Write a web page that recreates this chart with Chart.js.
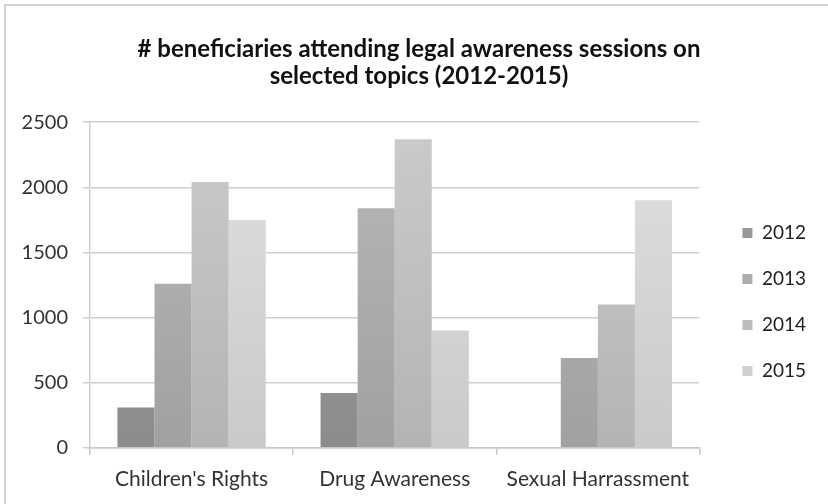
<!DOCTYPE html>
<html>
<head>
<meta charset="utf-8">
<script src="https://cdn.jsdelivr.net/npm/chart.js@4.4.1/dist/chart.umd.min.js"></script>
<style>
    html, body { margin: 0; padding: 0; background: #fff; }
    #wrap { position: relative; width: 828px; height: 504px; overflow: hidden; }
    #frame { position: absolute; left: 4px; top: 4px; width: 900px; height: 600px;
             border-top: 2px solid #d2d2d2; border-left: 2px solid #d2d2d2; }
    canvas { position: absolute; left: 0; top: 0; }
</style>
</head>
<body>
<div id="wrap">
    <div id="frame"></div>
    <canvas id="myChart" width="828" height="504"></canvas>
</div>
<script>
const topics = ["Children's Rights", "Drug Awareness", "Sexual Harrassment"];
const years = ["2012", "2013", "2014", "2015"];
const values_2012 = [310, 420, 0];
const values_2013 = [1260, 1840, 690];
const values_2014 = [2040, 2370, 1100];
const values_2015 = [1750, 900, 1900];
const y_ticks = [0, 500, 1000, 1500, 2000, 2500];

const shades = [
    ['#a0a0a0', '#8c8c8c'],
    ['#b8b8b8', '#a1a1a1'],
    ['#cbcbcb', '#b4b4b4'],
    ['#e0e0e0', '#cacaca']
];

function bar_fill(index) {
    return (ctx) => {
        const area = ctx.chart.chartArea;
        if (!area) {
            return shades[index][1];
        }
        const grad = ctx.chart.ctx.createLinearGradient(0, area.bottom, 0, area.top);
        grad.addColorStop(0, shades[index][1]);
        grad.addColorStop(1, shades[index][0]);
        return grad;
    };
}

const series = [values_2012, values_2013, values_2014, values_2015];

Chart.defaults.font.family = "Lato, 'Open Sans', sans-serif";
Chart.defaults.color = '#333';

const ctx = document.getElementById('myChart');
var chart = new Chart(ctx, {
    type: 'bar',
    data: {
        labels: topics,
        datasets: years.map((year, i) => ({
            label: year,
            data: series[i],
            backgroundColor: bar_fill(i),
            borderWidth: 0,
            categoryPercentage: 0.73,
            barPercentage: 1.0
        }))
    },
    options: {
        responsive: false,
        animation: false,
        layout: {
            padding: { left: 22, right: 12, top: 0, bottom: 0 }
        },
        plugins: {
            title: {
                display: true,
                text: ['# beneficiaries attending legal awareness sessions on', 'selected topics (2012-2015)'],
                color: '#111',
                font: { size: 24, weight: 'bold', lineHeight: 1.15 },
                padding: { top: 35, bottom: 32 }
            },
            legend: {
                position: 'right',
                fullSize: false,
                title: { display: true, text: ' ', font: { size: 10 }, padding: 11 },
                labels: {
                    boxWidth: 10,
                    boxHeight: 10,
                    padding: 27,
                    color: '#222',
                    font: { size: 19 }
                }
            },
            tooltip: { enabled: false }
        },
        scales: {
            x: {
                grid: {
                    offset: true,
                    drawOnChartArea: false,
                    tickLength: 7,
                    color: '#c8c8c8',
                    lineWidth: 1.5
                },
                border: { color: '#c8c8c8', width: 1.5 },
                ticks: { padding: 12, color: '#333', font: { size: 21 } }
            },
            y: {
                min: 0,
                max: 2500,
                afterBuildTicks: (axis) => {
                    axis.ticks = y_ticks.map((v) => ({ value: v }));
                },
                afterFit: (axis) => { axis.width = 68; },
                grid: {
                    tickLength: 7,
                    color: '#cfcfcf',
                    lineWidth: 1.5
                },
                border: { color: '#cfcfcf', width: 1.5 },
                ticks: {
                    padding: 15,
                    color: '#333',
                    font: { size: 20 },
                    callback: (v) => String(v)
                }
            },
            gap: {
                position: 'right',
                display: true,
                grid: { display: false },
                border: { display: false },
                ticks: { display: false },
                afterFit: (axis) => { axis.width = 16; }
            }
        }
    }
});
</script>
</body>
</html>
